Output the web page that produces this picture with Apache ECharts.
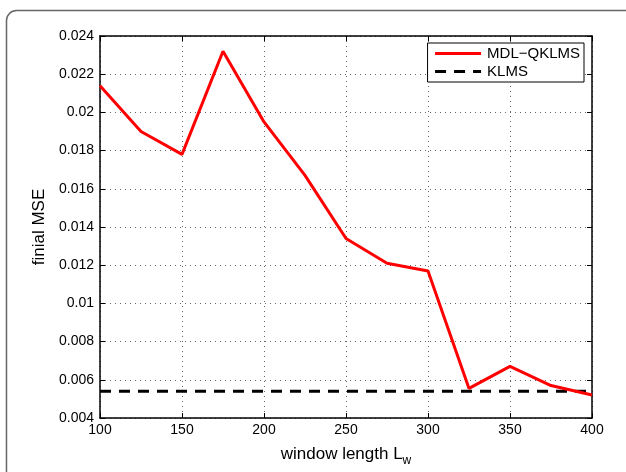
<!DOCTYPE html>
<html>
<head>
<meta charset="utf-8">
<script src="https://cdn.jsdelivr.net/npm/echarts@6/dist/echarts.min.js"></script>
<style>html,body{margin:0;padding:0;background:#fff;}#c{width:626px;height:472px;}</style>
</head>
<body>
<div id="c"></div>
<script>
var windowLength = [100, 125, 150, 175, 200, 225, 250, 275, 300, 325, 350, 375, 400];
var mdlQklms = [0.0214, 0.0190, 0.0178, 0.0232, 0.0195, 0.0167, 0.0134, 0.0121, 0.0117, 0.00555, 0.0067, 0.0057, 0.0052];
var klmsX = [100, 400];
var klmsY = [0.0054, 0.0054];
var xTicks = [100, 150, 200, 250, 300, 350, 400];
var yTicks = [0.004, 0.006, 0.008, 0.01, 0.012, 0.014, 0.016, 0.018, 0.02, 0.022, 0.024];

var chart = echarts.init(document.getElementById('c'), null, {renderer: 'canvas'});
var font = 'Liberation Sans, Arial, Helvetica, sans-serif';
var gridDots = {show: true, lineStyle: {color: '#666', width: 1, type: [1, 4]}};
var axisLine = {show: true, onZero: false, lineStyle: {color: '#000', width: 1.5}};
var tick = {show: true, inside: true, length: 5, lineStyle: {color: '#000', width: 1}};

chart.setOption({
  animation: false,
  backgroundColor: '#fff',
  textStyle: {fontFamily: font},
  graphic: [{
    type: 'rect', silent: true, z: -1,
    shape: {x: 6.5, y: 10.5, width: 660, height: 500, r: 10},
    style: {fill: 'none', stroke: '#666', lineWidth: 1.5}
  }],
  grid: {left: 100, right: 34, top: 36, bottom: 48, containLabel: false},
  legend: {
    orient: 'vertical', right: 42, top: 43,
    padding: [3, 4, 3, 6], itemGap: 3,
    itemWidth: 46, itemHeight: 14,
    borderColor: '#000', borderWidth: 1, backgroundColor: '#fff',
    itemStyle: {opacity: 0},
    lineStyle: {width: 3},
    textStyle: {fontFamily: font, fontSize: 15, color: '#000', padding: [0, 0, 0, 1]},
    data: ['MDL\u2212QKLMS', 'KLMS']
  },
  xAxis: [{
    type: 'value', min: 100, max: 400, interval: 50,
    name: '{n|window length L}{s|w}', nameLocation: 'middle', nameGap: 24,
    nameTextStyle: {rich: {
      n: {fontFamily: font, fontSize: 17, color: '#000'},
      s: {fontFamily: font, fontSize: 12, color: '#000', padding: [13, 0, 0, 0]}
    }},
    axisLine: axisLine, axisTick: tick,
    axisLabel: {color: '#000', fontSize: 14, fontFamily: font, margin: 5,
      formatter: function (v) { return xTicks.indexOf(v) >= 0 ? String(v) : ''; }},
    splitLine: gridDots
  }, {
    type: 'value', position: 'top', min: 100, max: 400, interval: 50,
    axisLine: axisLine, axisTick: tick, axisLabel: {show: false}, splitLine: {show: false}
  }],
  yAxis: [{
    type: 'value', min: 0.004, max: 0.024, interval: 0.002,
    name: 'finial MSE', nameLocation: 'middle', nameGap: 41,
    nameTextStyle: {fontFamily: font, fontSize: 17, color: '#000'},
    axisLine: axisLine, axisTick: tick,
    axisLabel: {color: '#000', fontSize: 14, fontFamily: font, margin: 6,
      formatter: function (v) {
        var r = parseFloat(v.toFixed(4));
        for (var i = 0; i < yTicks.length; i++) if (Math.abs(yTicks[i] - r) < 1e-9) return String(yTicks[i]);
        return '';
      }},
    splitLine: gridDots
  }, {
    type: 'value', position: 'right', min: 0.004, max: 0.024, interval: 0.002,
    axisLine: axisLine, axisTick: tick, axisLabel: {show: false}, splitLine: {show: false}
  }],
  series: [{
    name: 'MDL\u2212QKLMS', type: 'line', symbol: 'none', z: 3,
    lineStyle: {color: '#ff0000', width: 3},
    itemStyle: {color: '#ff0000'},
    data: windowLength.map(function (x, i) { return [x, mdlQklms[i]]; })
  }, {
    name: 'KLMS', type: 'line', symbol: 'none', z: 2,
    lineStyle: {color: '#000', width: 3, type: [11, 8]},
    itemStyle: {color: '#000'},
    data: klmsX.map(function (x, i) { return [x, klmsY[i]]; })
  }]
});
</script>
</body>
</html>
